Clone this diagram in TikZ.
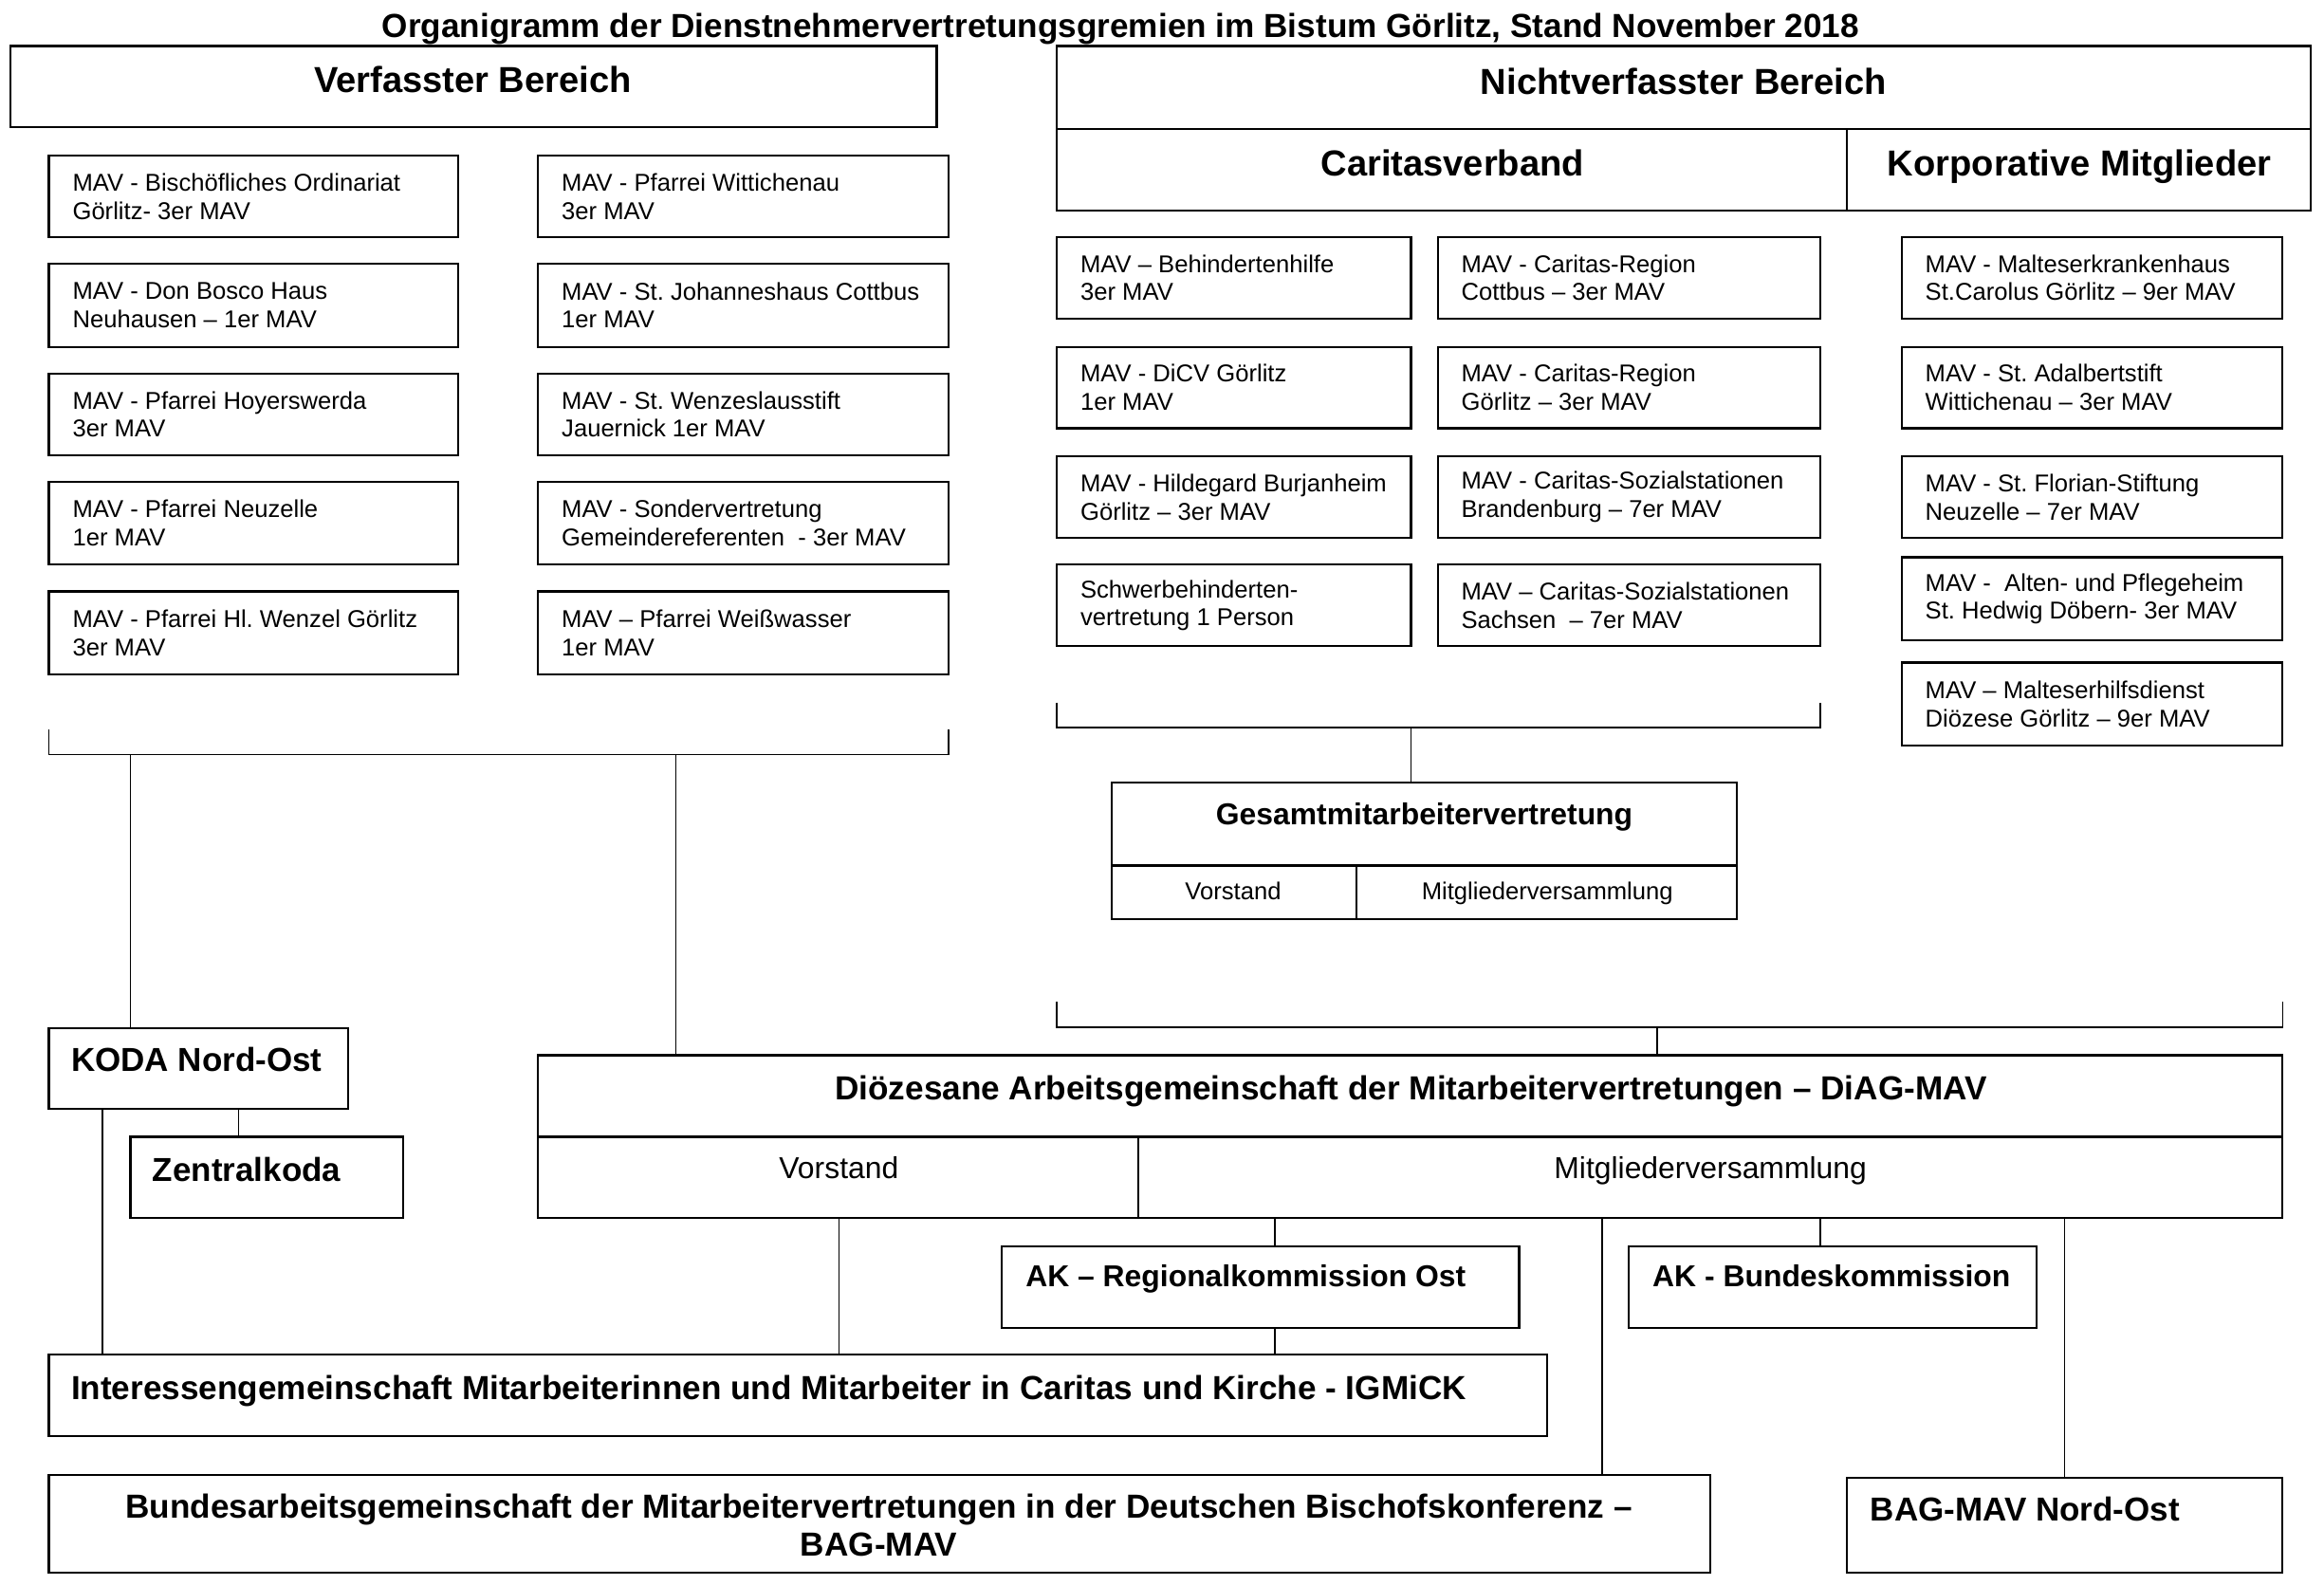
\documentclass[tikz,border=0pt]{standalone}
\usepackage{fontspec}
\setmainfont{Liberation Sans}
\frenchspacing
\usetikzlibrary{calc}
\tikzset{
  box/.style={draw, line width=0.7pt, anchor=north west, inner sep=0pt, outer sep=0pt},
  mavtxt/.style={inner sep=0pt, outer sep=0pt, anchor=west, align=left, font=\fontsize{8.2}{9.5}\selectfont\frenchspacing},
  conn/.style={line width=0.5pt},
  lbl/.style={inner sep=0pt, outer sep=0pt},
  hdA/.style={lbl, anchor=base, font=\fontsize{12.2}{14}\selectfont\bfseries},
  hdB/.style={lbl, font=\fontsize{11.2}{13}\selectfont\bfseries},
  hdC/.style={lbl, font=\fontsize{10.2}{13}\selectfont\bfseries},
  hdD/.style={lbl, font=\fontsize{11.25}{13}\selectfont\bfseries},
  rgC/.style={lbl, anchor=base, font=\fontsize{10.2}{12}\selectfont},
  rgS/.style={lbl, anchor=base, font=\fontsize{8.2}{10}\selectfont},
}
\newcommand\mkbox[5]{\pgfmathsetmacro\bw{(#4-#2)*0.5}\pgfmathsetmacro\bh{(#5-#3)*0.5}%
  \node[box, minimum width=\bw pt, minimum height=\bh pt] (#1) at (#2,#3) {};}
\newcommand\mkmav[6]{\mkbox{#1}{#2}{#3}{#4}{#5}%
  \node[mavtxt] (#1t) at ([xshift=8pt]#1.west) {#6};}
\begin{document}
\begin{tikzpicture}[x=0.5pt, y=-0.5pt]
\fill[white] (0,0) rectangle (1568,1069);
\useasboundingbox (0,0) rectangle (1568,1069);

% title
\node[lbl, anchor=base, font=\fontsize{11.25}{13}\selectfont\bfseries] (title) at (756,25.5)
  {Organigramm der Dienstnehmervertretungsgremien im Bistum Görlitz, Stand November 2018};

% header boxes
\mkbox{verf}{7}{31}{632}{86}
\node[hdA] (verft) at (319,62.7) {Verfasster Bereich};
\mkbox{nicht}{713}{31}{1559}{87}
\node[hdA] (nichtt) at (1136,63.7) {Nichtverfasster Bereich};
\mkbox{carit}{713}{87}{1246}{142}
\node[hdA] (caritt) at (980,118.7) {Caritasverband};
\mkbox{korp}{1246}{87}{1559}{142}
\node[hdA] (korpt) at (1403,118.7) {Korporative Mitglieder};

% verfasster MAV boxes
\mkmav{l1}{33}{105}{309}{160}{MAV - Bischöfliches Ordinariat\\Görlitz- 3er MAV}
\mkmav{l2}{33}{178}{309}{234}{MAV - Don Bosco Haus\\Neuhausen – 1er MAV}
\mkmav{l3}{33}{252}{309}{307}{MAV - Pfarrei Hoyerswerda\\3er MAV}
\mkmav{l4}{33}{325}{309}{381}{MAV - Pfarrei Neuzelle\\1er MAV}
\mkmav{l5}{33}{399}{309}{455}{MAV - Pfarrei Hl. Wenzel Görlitz\\3er MAV}
\mkmav{r1}{363}{105}{640}{160}{MAV - Pfarrei Wittichenau\\3er MAV}
\mkmav{r2}{363}{178}{640}{234}{MAV - St. Johanneshaus Cottbus\\1er MAV}
\mkmav{r3}{363}{252}{640}{307}{MAV - St. Wenzeslausstift\\Jauernick 1er MAV}
\mkmav{r4}{363}{325}{640}{381}{MAV - Sondervertretung\\Gemeindereferenten\ \ - 3er MAV}
\mkmav{r5}{363}{399}{640}{455}{MAV – Pfarrei Weißwasser\\1er MAV}

% caritas MAV boxes
\mkmav{a1}{713}{160}{952}{215}{MAV – Behindertenhilfe\\3er MAV}
\mkmav{a2}{713}{234}{952}{289}{MAV - DiCV Görlitz\\1er MAV}
\mkmav{a3}{713}{308}{952}{363}{MAV - Hildegard Burjanheim\\Görlitz – 3er MAV}
\mkmav{a4}{713}{381}{952}{436}{Schwerbehinderten-\\vertretung 1 Person}
\mkmav{b1}{970}{160}{1228}{215}{MAV - Caritas-Region\\Cottbus – 3er MAV}
\mkmav{b2}{970}{234}{1228}{289}{MAV - Caritas-Region\\Görlitz – 3er MAV}
\mkmav{b3}{970}{308}{1228}{363}{MAV - Caritas-Sozialstationen\\Brandenburg – 7er MAV}
\mkmav{b4}{970}{381}{1228}{436}{MAV – Caritas-Sozialstationen\\Sachsen\ \ – 7er MAV}

% korporative boxes
\mkmav{k1}{1283}{160}{1540}{215}{MAV - Malteserkrankenhaus\\St.Carolus Görlitz – 9er MAV}
\mkmav{k2}{1283}{234}{1540}{289}{MAV - St. Adalbertstift\\Wittichenau – 3er MAV}
\mkmav{k3}{1283}{308}{1540}{363}{MAV - St. Florian-Stiftung\\Neuzelle – 7er MAV}
\mkmav{k4}{1283}{376}{1540}{432}{MAV -\ \ Alten- und Pflegeheim\\St. Hedwig Döbern- 3er MAV}
\mkmav{k5}{1283}{447}{1540}{503}{MAV – Malteserhilfsdienst\\Diözese Görlitz – 9er MAV}

% Gesamtmitarbeitervertretung
\mkbox{gest}{750}{528}{1172}{584}
\node[hdC, anchor=base] (gestt) at (961,556.3) {Gesamtmitarbeitervertretung};
\mkbox{gesv}{750}{584}{915}{620}
\node[rgS] (gesvt) at (832,606.9) {Vorstand};
\mkbox{gesm}{915}{584}{1172}{620}
\node[rgS] (gesmt) at (1044,606.9) {Mitgliederversammlung};

% DiAG-MAV
\mkbox{diagt}{363}{712}{1540}{767}
\node[hdD, anchor=base] (diagtt) at (952,742) {Diözesane Arbeitsgemeinschaft der Mitarbeitervertretungen – DiAG-MAV};
\mkbox{diagv}{363}{767}{768}{822}
\node[rgC] (diagvt) at (566,795.3) {Vorstand};
\mkbox{diagm}{768}{767}{1540}{822}
\node[rgC] (diagmt) at (1154,795.3) {Mitgliederversammlung};

% KODA
\mkbox{koda}{33}{694}{235}{748}
\node[hdB, anchor=base west] (kodat) at (48,723) {KODA Nord-Ost};
\mkbox{zk}{88}{767}{272}{822}
\node[hdB, anchor=base west] (zkt) at (103,797) {Zentralkoda};

% AK
\mkbox{akr}{676}{841}{1025}{896}
\node[hdC, anchor=base west] (akrt) at (692,868.3) {AK – Regionalkommission Ost};
\mkbox{akb}{1099}{841}{1374}{896}
\node[hdC, anchor=base west] (akbt) at (1115,868.3) {AK - Bundeskommission};

% IGMiCK
\mkbox{igm}{33}{914}{1044}{969}
\node[hdD, anchor=base west] (igmt) at (48,944) {Interessengemeinschaft Mitarbeiterinnen und Mitarbeiter in Caritas und Kirche - IGMiCK};

% BAG
\mkbox{bag}{33}{995}{1154}{1061}
\node[hdD, anchor=base] (bagt1) at (593,1024) {Bundesarbeitsgemeinschaft der Mitarbeitervertretungen in der Deutschen Bischofskonferenz –};
\node[hdD, anchor=base] (bagt2) at (593,1050) {BAG-MAV};
\mkbox{bagno}{1246}{997}{1540}{1061}
\node[hdB, anchor=base west] (bagnot) at (1262,1026) {BAG-MAV Nord-Ost};

% brackets
\coordinate (lbA) at (33,492); \coordinate (lbC) at (33,509);
\coordinate (lbD) at (640,509); \coordinate (lbB) at (640,492);
\draw[conn] (lbA) -- (lbC) -- (lbD) -- (lbB);
\coordinate (lbk) at (88,509); \coordinate (lbd) at (456,509);
\draw[conn] (lbk) -- (lbk |- koda.north);
\draw[conn] (lbd) -- (lbd |- diagt.north);

\coordinate (cbA) at (713,474); \coordinate (cbC) at (713,491);
\coordinate (cbD) at (1228,491); \coordinate (cbB) at (1228,474);
\draw[conn] (cbA) -- (cbC) -- (cbD) -- (cbB);
\coordinate (cbg) at (952,491);
\draw[conn] (cbg) -- (cbg |- gest.north);

\coordinate (nbA) at (713,676); \coordinate (nbC) at (713,693);
\coordinate (nbD) at (1540,693); \coordinate (nbB) at (1540,676);
\draw[conn] (nbA) -- (nbC) -- (nbD) -- (nbB);
\coordinate (nbd) at (1118,693);
\draw[conn] (nbd) -- (nbd |- diagt.north);

% lower connectors
\draw[conn] (161,0 |- koda.south) -- (161,0 |- zk.north);
\draw[conn] (69,0 |- koda.south) -- (69,0 |- igm.north);
\draw[conn] (566,0 |- diagv.south) -- (566,0 |- igm.north);
\draw[conn] (860,0 |- diagm.south) -- (860,0 |- akr.north);
\draw[conn] (860,0 |- akr.south) -- (860,0 |- igm.north);
\draw[conn] (1081,0 |- diagm.south) -- (1081,0 |- bag.north);
\draw[conn] (1228,0 |- diagm.south) -- (1228,0 |- akb.north);
\draw[conn] (1393,0 |- diagm.south) -- (1393,0 |- bagno.north);
\end{tikzpicture}
\end{document}
